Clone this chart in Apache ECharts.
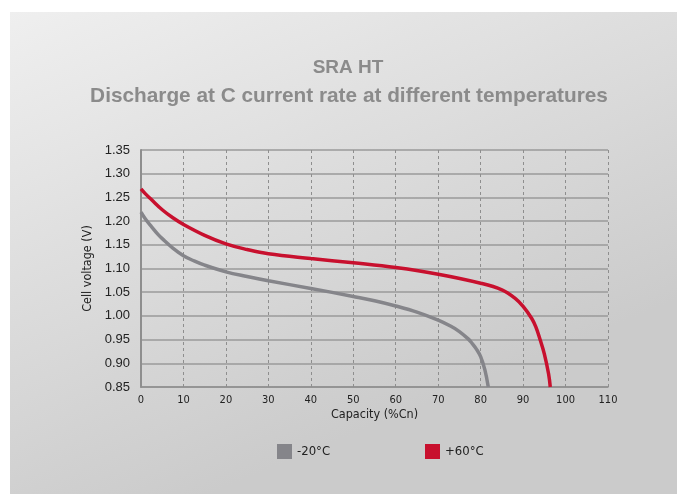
<!DOCTYPE html>
<html>
<head>
<meta charset="utf-8">
<script src="https://cdn.jsdelivr.net/npm/echarts@6/dist/echarts.min.js"></script>
<style>
html,body{margin:0;padding:0;background:#fff;}
#chart{width:677px;height:494px;}
</style>
</head>
<body>
<div id="chart"></div>
<script>
const titleText = "SRA HT";
const subtitleText = "Discharge at C current rate at different temperatures";
const xAxisName = "Capacity (%Cn)";
const yAxisName = "Cell voltage (V)";
const seriesNames = ["-20°C", "+60°C"];

const coldCapacity = [0, 1, 2.5, 4, 5, 7.5, 10, 12.5, 15, 20, 25, 30, 40, 50, 55, 60, 65, 70, 73, 75, 77, 78, 79, 80, 81, 81.8];
const coldVoltage  = [1.219, 1.205, 1.188, 1.172, 1.163, 1.143, 1.127, 1.116, 1.107, 1.093, 1.083, 1.074, 1.058, 1.041, 1.032, 1.021, 1.008, 0.991, 0.978, 0.967, 0.952, 0.942, 0.930, 0.914, 0.886, 0.85];

const hotCapacity = [0, 1, 2.5, 5, 7.5, 10, 15, 20, 25, 30, 40, 50, 60, 70, 80, 85, 88, 90, 92, 93, 94, 95, 96, 96.4];
const hotVoltage  = [1.268, 1.258, 1.245, 1.224, 1.207, 1.193, 1.170, 1.152, 1.140, 1.131, 1.121, 1.112, 1.102, 1.088, 1.069, 1.055, 1.038, 1.020, 0.995, 0.977, 0.950, 0.920, 0.878, 0.85];

const pairs = (xs, ys) => xs.map((x, i) => [x, ys[i]]);

const chart = echarts.init(document.getElementById('chart'));
const tickFont = 'DejaVu Sans Condensed';
chart.setOption({
  animation: false,
  graphic: [{
    type: 'rect', z: -10, silent: true,
    shape: {x: 10, y: 12, width: 667, height: 482},
    style: {fill: new echarts.graphic.LinearGradient(0, 0, 0.3, 1, [
      {offset: 0, color: '#efefef'}, {offset: 1, color: '#cbcbcb'}
    ])}
  }],
  title: [
    {text: titleText, left: 343, textAlign: 'center', top: 53,
     textStyle: {fontFamily: 'Liberation Sans', fontWeight: 'bold', fontSize: 19, color: '#8b8b8b'}},
    {text: subtitleText, left: 344, textAlign: 'center', top: 81,
     textStyle: {fontFamily: 'Liberation Sans', fontWeight: 'bold', fontSize: 20.8, color: '#8b8b8b'}}
  ],
  legend: [
    {data: [seriesNames[0]], left: 272, top: 439, icon: 'rect', itemWidth: 15, itemHeight: 15, itemGap: 8,
     textStyle: {fontFamily: tickFont, fontSize: 13, color: '#222'}},
    {data: [seriesNames[1]], left: 420, top: 439, icon: 'rect', itemWidth: 15, itemHeight: 15, itemGap: 8,
     textStyle: {fontFamily: tickFont, fontSize: 13, color: '#222'}}
  ],
  grid: {left: 141, right: 69, top: 150, bottom: 107, containLabel: false},
  xAxis: {
    type: 'value', min: 0, max: 110, interval: 10,
    name: xAxisName, nameLocation: 'middle', nameGap: 21,
    nameTextStyle: {fontFamily: tickFont, fontSize: 12.5, color: '#222'},
    axisLine: {show: true, lineStyle: {color: '#8e8e8e', width: 1.5}},
    axisTick: {show: false},
    axisLabel: {fontFamily: tickFont, fontSize: 11, color: '#222', margin: 8},
    splitLine: {show: true, lineStyle: {type: [3, 3], color: '#8e8e8e', width: 1}}
  },
  yAxis: {
    type: 'value', min: 0.85, max: 1.35, interval: 0.05,
    name: yAxisName, nameLocation: 'middle', nameGap: 46, nameRotate: 90,
    nameTextStyle: {fontFamily: tickFont, fontSize: 12.5, color: '#222'},
    axisLine: {show: true, lineStyle: {color: '#8e8e8e', width: 2}},
    axisTick: {show: false},
    axisLabel: {fontFamily: 'Liberation Sans', fontSize: 13, color: '#222', margin: 11,
      formatter: v => v.toFixed(2)},
    splitLine: {show: true, lineStyle: {type: 'solid', color: '#9a9a9a', width: 1.5}}
  },
  series: [
    {name: seriesNames[0], type: 'line', data: pairs(coldCapacity, coldVoltage),
     smooth: 0.4, showSymbol: false, color: '#85858a', lineStyle: {width: 3.5, color: '#85858a'}},
    {name: seriesNames[1], type: 'line', data: pairs(hotCapacity, hotVoltage),
     smooth: 0.4, showSymbol: false, color: '#c8102e', lineStyle: {width: 3.5, color: '#c8102e'}}
  ]
});
</script>
</body>
</html>
